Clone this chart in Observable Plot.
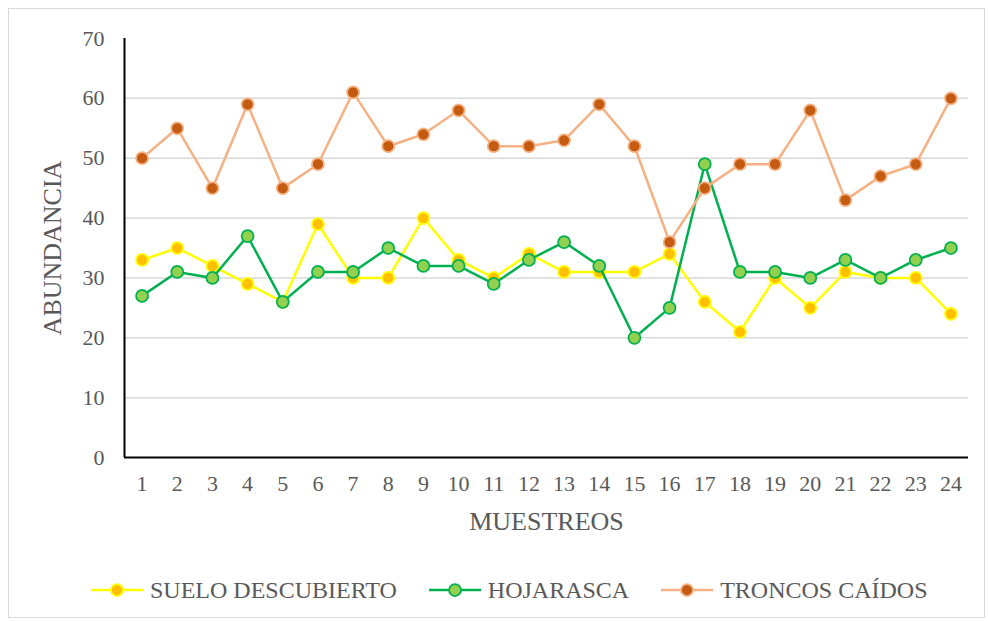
<!DOCTYPE html>
<html>
<head>
<meta charset="utf-8">
<script src="https://cdn.jsdelivr.net/npm/d3@7"></script>
<script src="https://cdn.jsdelivr.net/npm/@observablehq/plot@0.6"></script>
<style>
  html, body { margin: 0; padding: 0; background: #fff; }
  #wrap { position: relative; width: 988px; height: 621px; overflow: hidden; font-family: "Liberation Serif", "Times New Roman", serif; }
  #border { position: absolute; left: 8px; top: 8px; width: 977px; height: 610px; border: 1px solid #d9d9d9; box-sizing: border-box; }
  #chart { position: absolute; left: 0; top: 0; }
  #legend { position: absolute; left: 91px; top: 574px; height: 32px; display: flex; align-items: center; color: #595959; font-size: 24px; }
  .item { display: flex; align-items: center; margin-right: 32px; }
  .item svg { margin-right: 7px; }
</style>
</head>
<body>
<div id="wrap">
  <div id="border"></div>
  <div id="chart"></div>
  <div id="legend"></div>
</div>
<script>
const muestreos = [1,2,3,4,5,6,7,8,9,10,11,12,13,14,15,16,17,18,19,20,21,22,23,24];
const sueloDescubierto = [33,35,32,29,26,39,30,30,40,33,30,34,31,31,31,34,26,21,30,25,31,30,30,24];
const hojarasca = [27,31,30,37,26,31,31,35,32,32,29,33,36,32,20,25,49,31,31,30,33,30,33,35];
const troncosCaidos = [50,55,45,59,45,49,61,52,54,58,52,52,53,59,52,36,45,49,49,58,43,47,49,60];
const yTicks = [0,10,20,30,40,50,60,70];
const gridTicks = [10,20,30,40,50,60];

const series = [
  {name: "SUELO DESCUBIERTO", values: sueloDescubierto, line: "#FFFF00", fill: "#FFC000", stroke: "#FFFF00"},
  {name: "HOJARASCA", values: hojarasca, line: "#00B050", fill: "#92D050", stroke: "#00B050"},
  {name: "TRONCOS CAÍDOS", values: troncosCaidos, line: "#F4B183", fill: "#C55A11", stroke: "#F4B183"}
];

const marks = [
  Plot.gridY(gridTicks, {stroke: "#d9d9d9", strokeOpacity: 1, strokeWidth: 1.5}),
  Plot.axisY(yTicks, {tickSize: 0, tickPadding: 20, fontSize: 22, fill: "#595959", label: null}),
  Plot.axisX(muestreos, {tickSize: 0, tickPadding: 18, fontSize: 22, fill: "#595959", label: null, tickFormat: d => String(d)}),
  Plot.ruleY([0], {stroke: "#000", strokeWidth: 2}),
  Plot.ruleX([0.5], {stroke: "#000", strokeWidth: 2}),
  Plot.text(["ABUNDANCIA"], {frameAnchor: "left", dx: -72, rotate: -90, textAnchor: "middle", lineAnchor: "middle", fontSize: 26, fill: "#595959", text: d => d}),
  Plot.text(["MUESTREOS"], {frameAnchor: "bottom", dy: 64, fontSize: 26, fill: "#595959", text: d => d, lineAnchor: "middle"})
];

for (const s of series) {
  const data = muestreos.map((m, i) => ({m, v: s.values[i]}));
  marks.push(Plot.line(data, {x: "m", y: "v", stroke: s.line, strokeWidth: 2.5}));
  marks.push(Plot.dot(data, {x: "m", y: "v", r: 6, fill: s.fill, stroke: s.stroke, strokeWidth: 1.75}));
}

const chart = Plot.plot({
  width: 988,
  height: 545,
  marginLeft: 124,
  marginRight: 20,
  marginTop: 38,
  marginBottom: 88,
  style: {fontFamily: "'Liberation Serif', 'Times New Roman', serif", background: "transparent", overflow: "visible"},
  x: {type: "linear", domain: [0.5, 24.5]},
  y: {domain: [0, 70]},
  marks
});
document.getElementById("chart").appendChild(chart);

const legend = document.getElementById("legend");
for (const s of series) {
  const item = document.createElement("div");
  item.className = "item";
  item.innerHTML = `<svg width="52" height="16"><line x1="0" y1="8" x2="52" y2="8" stroke="${s.line}" stroke-width="2.5"/><circle cx="26" cy="8" r="6" fill="${s.fill}" stroke="${s.stroke}" stroke-width="1.75"/></svg><span>${s.name}</span>`;
  legend.appendChild(item);
}
</script>
</body>
</html>
